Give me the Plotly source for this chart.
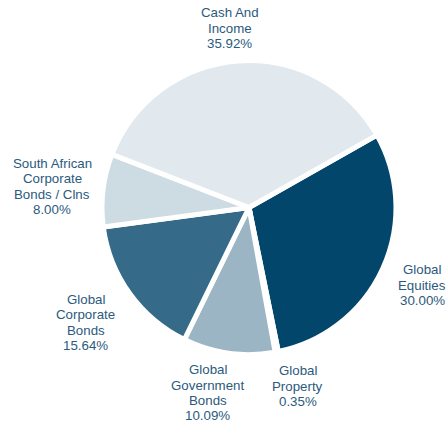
import math
import textwrap
import plotly.graph_objects as go

# Asset allocation (clockwise from the Equities slice)
labels = [
    "Global Equities",
    "Global Property",
    "Global Government Bonds",
    "Global Corporate Bonds",
    "South African Corporate Bonds / Clns",
    "Cash And Income",
]
weights = [30.00, 0.35, 10.09, 15.64, 8.00, 35.92]
colors = ["#03466b", "#5f8aa3", "#9bb5c5", "#356a88", "#cddbe3", "#e1e9ee"]

W, H = 448, 428
DOM_X = [0.2277, 0.8839]
DOM_Y = [0.1717, 0.8586]
ROTATION = 60.5
TEXT_COLOR = "#2b5a7d"
FONT = "Arial, Liberation Sans, sans-serif"
FONT_SIZE = 13.3
LINE_H = 15.3

# label distance from pie centre and small per-label nudges (px) to avoid collisions
LABEL_R = 185
nudges = [(5, 1), (14, -3), (-16, 2), (-13, 7), (-13, 1), (-6, 5)]

fig = go.Figure(
    go.Pie(
        labels=labels,
        values=weights,
        sort=False,
        direction="clockwise",
        rotation=ROTATION,
        marker=dict(colors=colors, line=dict(color="white", width=5)),
        textinfo="none",
        hoverinfo="label+percent",
        domain=dict(x=DOM_X, y=DOM_Y),
        showlegend=False,
    )
)

# place the data labels around the pie from each slice's mid-angle,
# one annotation per text line so the line spacing stays compact
cx = (DOM_X[0] + DOM_X[1]) / 2 * W
cy = (1 - (DOM_Y[0] + DOM_Y[1]) / 2) * H
total = sum(weights)
start = ROTATION
annotations = []
for name, val, (dx, dy) in zip(labels, weights, nudges):
    span = val / total * 360
    mid = math.radians(start + span / 2)
    start += span
    px = cx + LABEL_R * math.sin(mid) + dx
    py = cy - LABEL_R * math.cos(mid) + dy
    lines = textwrap.wrap(name, 13) + [f"{val:.2f}%"]
    top = py - (len(lines) - 1) * LINE_H / 2
    for i, line in enumerate(lines):
        ly = top + i * LINE_H
        annotations.append(
            dict(
                x=px / W,
                y=1 - ly / H,
                xref="paper",
                yref="paper",
                text=line,
                showarrow=False,
                xanchor="center",
                yanchor="middle",
                align="center",
                font=dict(family=FONT, size=FONT_SIZE, color=TEXT_COLOR),
            )
        )

fig.update_layout(
    width=W,
    height=H,
    margin=dict(l=0, r=0, t=0, b=0),
    paper_bgcolor="white",
    plot_bgcolor="white",
    annotations=annotations,
)

fig.write_html("out.html")
